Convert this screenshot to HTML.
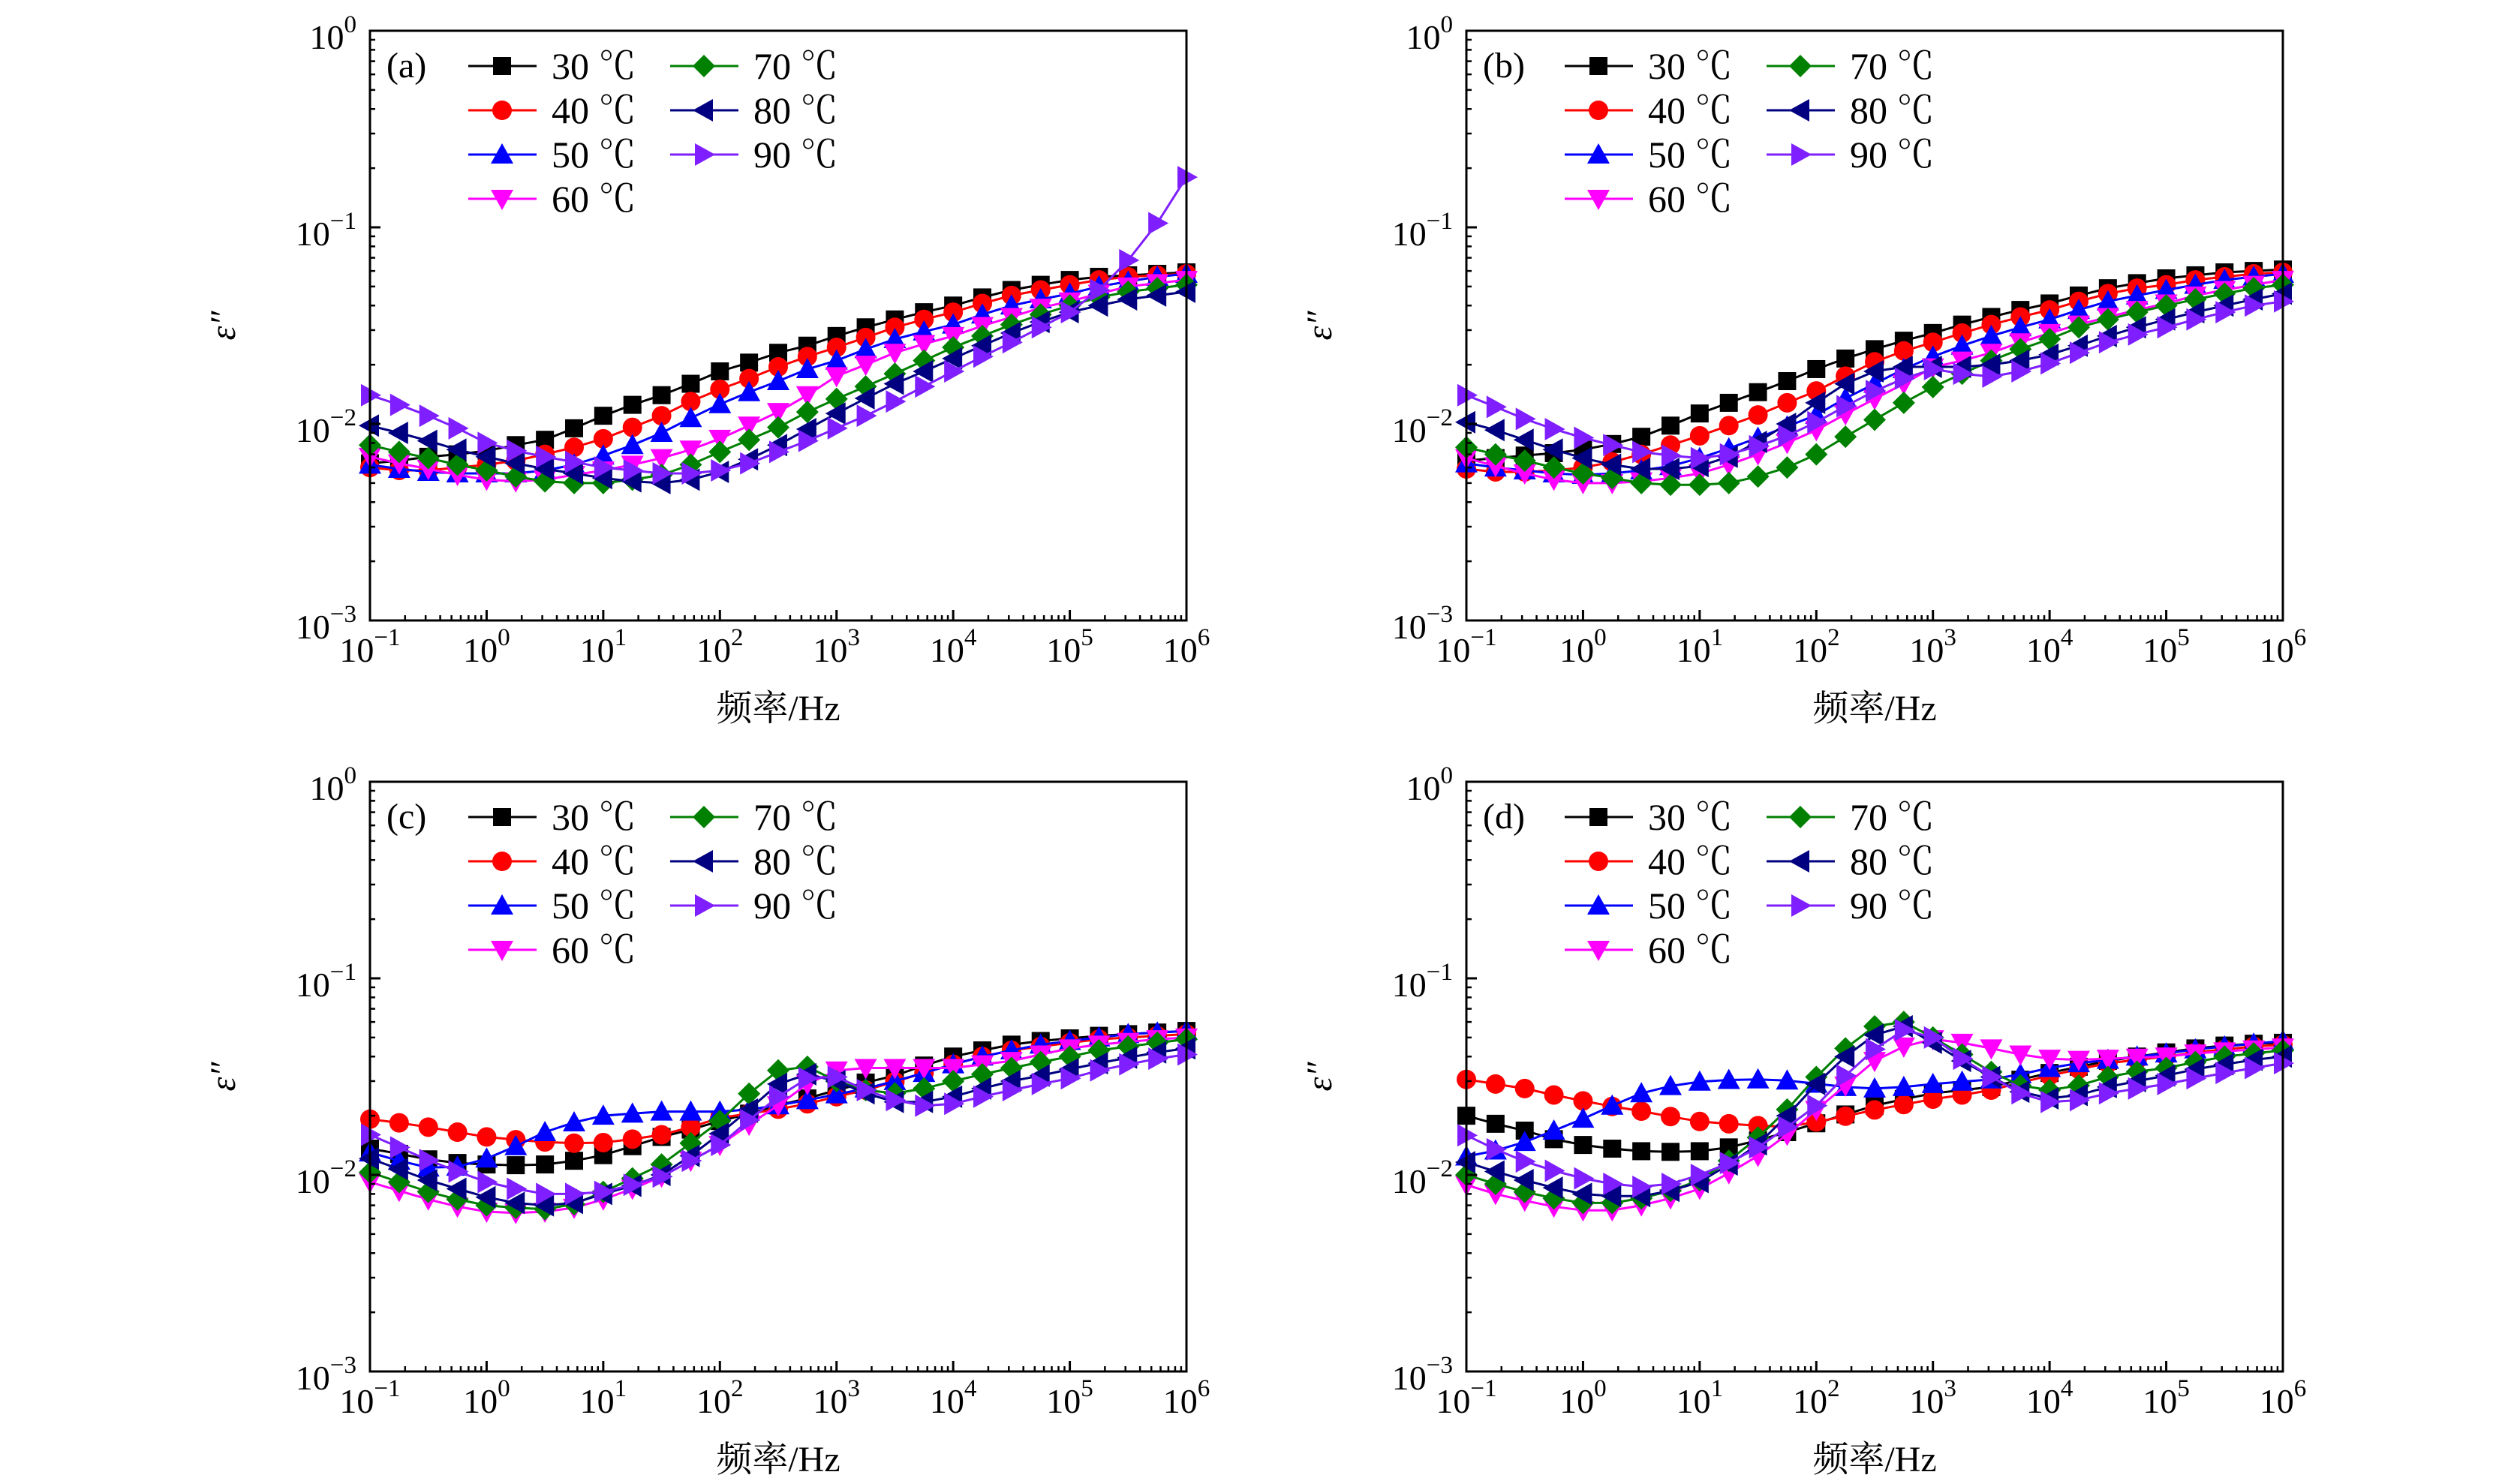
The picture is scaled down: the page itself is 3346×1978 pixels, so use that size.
<!DOCTYPE html>
<html><head><meta charset="utf-8"><style>
html,body{margin:0;padding:0;background:#fff;}
svg{display:block;}
text{font-family:"Liberation Serif","Noto Serif CJK SC",serif;fill:#000;}
</style></head>
<body>
<svg id="fig" width="3346" height="1978" viewBox="0 0 3346 1978" xmlns="http://www.w3.org/2000/svg"></svg>
<script>
// log10 frequency grid (quarter decades), values in units of 1e-3
const freqLog = [-1,-0.75,-0.5,-0.25,0,0.25,0.5,0.75,1,1.25,1.5,1.75,2,2.25,2.5,2.75,3,3.25,3.5,3.75,4,4.25,4.5,4.75,5,5.25,5.5,5.75,6];
const seriesLabels = ["30 ℃","40 ℃","50 ℃","60 ℃","70 ℃","80 ℃","90 ℃"];
const panelLetters = ["(a)","(b)","(c)","(d)"];
const yTickExp = [0,-1,-2,-3];
const xTickExp = [-1,0,1,2,3,4,5,6];

// Panel (a)
const a30 = [6.3,6.5,6.8,7.0,7.3,7.8,8.3,9.5,11,12.5,14,16,18.5,20.5,23,25,28,31,34,37,40,44,48,51,54,56,57,58,59];
const a40 = [6.0,5.8,5.8,6.0,6.2,6.5,7.0,7.6,8.4,9.6,11,13,15,17,19.5,22,24.5,27.5,31,34,37,41,45,48,51,54,56,57,58];
const a50 = [6.2,5.9,5.7,5.6,5.6,5.6,5.8,6.2,6.9,7.8,9.0,10.7,12.6,14.5,16.5,19,21,24,27,29.5,32,36,40,43,46,50,53,56,58];
const a60 = [6.8,6.3,5.9,5.5,5.2,5.1,5.2,5.5,5.8,6.2,6.7,7.4,8.4,9.8,11.5,14,17.5,20,23,25.5,28,31.5,35,39,42,46,50,52,54];
const a70 = [7.8,7.2,6.7,6.2,5.8,5.4,5.1,5.0,5.0,5.2,5.5,6.2,7.2,8.3,9.6,11.5,13.4,15.5,18,21,24.5,28,32,36,40,44,47,49,51];
const a80 = [9.8,9.0,8.2,7.4,6.8,6.3,5.9,5.6,5.3,5.1,5.0,5.2,5.7,6.6,7.8,9.4,11.3,13.5,16,18.5,21.5,25,29,33,37,40,43,45,47];
const a90 = [14,12.5,11,9.5,8.0,7.3,6.8,6.4,6.0,5.8,5.6,5.6,5.8,6.3,7.2,8.2,9.5,11,13,15.5,18.5,22,26,31,37,48,68,105,180];
// Panel (b)
const b30 = [6.5,6.7,6.9,7.1,7.4,7.9,8.6,9.8,11.3,12.8,14.5,16.5,19,21.5,24,26.5,29,32,35,38,41,45,49,52,55,57,59,60,61];
const b40 = [5.9,5.7,5.7,5.8,6.0,6.4,7.0,7.8,8.7,9.8,11.1,12.8,14.7,17.5,20.7,23.5,26,29,32,35,38,42,46,49,51,54,56,58,59];
const b50 = [6.3,6.0,5.8,5.6,5.5,5.6,5.8,6.1,6.7,7.5,8.5,9.7,11.1,13.5,16,19,22,25,28,31,34,38,42,45,48,51,54,56,58];
const b60 = [6.7,6.1,5.6,5.2,5.0,5.0,5.1,5.3,5.6,6.2,7.0,8.0,9.3,11.2,13.4,16,19.4,21,23,26,29,32,35,38,41,45,48,51,54];
const b70 = [7.6,7.0,6.5,6.0,5.6,5.3,5.0,4.9,4.9,5.0,5.4,6.0,7.0,8.6,10.5,12.8,15.4,18,21,24,27,31,34,37,40,43,46,49,51];
const b80 = [10.2,9.3,8.3,7.4,6.7,6.2,5.9,5.9,6.1,6.8,8.1,10,12.8,16,18.5,19.5,19.5,19.5,20,21,22.5,25,28,31,34,37,40,43,46];
const b90 = [14,12.2,10.6,9.4,8.5,7.8,7.2,6.9,6.7,7.0,7.7,8.7,10.2,12.3,14.7,17,19,18,17.4,18.5,20.3,23,26,28.5,31,34,37,40,42];
// Panel (c)
const c30 = [13.6,12.8,12.0,11.5,11.3,11.2,11.3,11.8,12.6,14,15.6,17,18.8,20.5,22.6,24.5,27,29.5,32,36,40,43,46,48,49.5,51,52,53,54];
const c40 = [19.2,18.4,17.5,16.5,15.6,15.1,14.7,14.5,14.6,15.2,16,17.5,19.5,20.5,21.6,23,25,27,29.8,33,36.5,40,43,45,47,49,50,51,52];
const c50 = [13,11.8,10.9,11.0,12.1,14,16.5,18.5,20,20.5,21,21,21,21.5,22.6,24,25.7,27.5,30,33,36.5,40,43,46,48,50,52,53,54];
const c60 = [9.2,8.3,7.5,6.9,6.5,6.4,6.5,6.8,7.5,8.5,9.8,11.8,14.2,18,22.6,29,34,35,35,35,35,36.5,38,41,44,46,47.5,49,50];
const c70 = [10.3,9.2,8.2,7.5,7.0,6.8,6.7,7.1,8.2,9.6,11.3,14.5,18.8,25.9,34,35.5,30,27,26,27.5,30,32.5,35,37.5,40,43,45,47,49];
const c80 = [12.1,10.7,9.4,8.5,7.7,7.2,7.0,7.2,8.0,8.8,10,12.5,16.2,21.5,29,32.5,30,26,23.5,23.5,25,27.5,30,32,34.5,37,39.5,42,44];
const c90 = [16,13.8,11.9,10.4,9.2,8.5,8.0,8.0,8.2,8.9,9.8,11.8,14.2,19,25,31,31.5,27,24,22.5,23,25,27,29,31,34,36.5,39,41];
// Panel (d)
const d30 = [20,18.2,16.8,15.2,14.2,13.6,13.2,13.1,13.2,13.8,15,16.5,18.3,20.3,22.5,24.3,26,27,28,30.5,33,35.5,38,40,42,44,45.5,46.5,47];
const d40 = [30.6,29,27.5,25.5,23.8,22.3,21.1,19.8,18.7,18.2,17.8,17.6,18.6,19.9,21.4,22.8,24.3,25.5,27,29.5,32,34.5,37,38.5,40,42,43.5,45,46];
const d50 = [12.4,13.3,14.7,16.8,19.3,22.5,26,28.3,29.8,30.4,30.6,30.2,29.1,28,27.5,28,29,29.8,30.6,32.5,35,37,38.5,40,41.5,43.5,45,46.5,48];
const d60 = [8.9,8.0,7.4,6.9,6.6,6.6,7.0,7.6,8.5,10.2,12.5,16,21.4,28.5,38,45,49,47,44,41,39,38.5,39,39.5,40,41.5,42.5,43.5,44.5];
const d70 = [10,9.0,8.2,7.6,7.2,7.2,7.6,8.3,9.4,11.8,15.5,21.5,31.5,44,57,60,50,41,33.4,28.5,27,28.5,31.5,33.5,35,37.5,40,41.5,43];
const d80 = [11.6,10.4,9.4,8.6,8.0,7.8,7.8,8.3,9.2,11.3,14.3,20,29,40,51.5,57,47,38,31.5,26.5,24.5,25.5,28,30,32,34.5,36.5,38.5,40];
const d90 = [15.9,13.5,11.7,10.5,9.6,9.0,8.7,9.0,10,11.5,13.8,17.5,22.5,32,43.6,54.6,50,39,31.5,26,23.5,24,26,27.5,29,31,33,35,37];

const panelData = [[a30,a40,a50,a60,a70,a80,a90],[b30,b40,b50,b60,b70,b80,b90],[c30,c40,c50,c60,c70,c80,c90],[d30,d40,d50,d60,d70,d80,d90]];

const colors = ["#000000","#ff0000","#0000ff","#ff00ff","#008000","#000080","#7f1fff"];
const shapes = ["square","circle","up","down","diamond","left","right"];
const panels = [
  {x0:493,x1:1581,y0:41,y1:827},
  {x0:1954,x1:3042,y0:41,y1:827},
  {x0:493,x1:1581,y0:1042,y1:1828},
  {x0:1954,x1:3042,y0:1042,y1:1828}
];
const NS="http://www.w3.org/2000/svg";
const svg=document.getElementById('fig');
function mk(tag,attrs,parent){const e=document.createElementNS(NS,tag);for(const k in attrs)e.setAttribute(k,attrs[k]);(parent||svg).appendChild(e);return e;}
function xPix(p,lf){return p.x0+(lf+1)/7*(p.x1-p.x0);}
function yPix(p,v){return p.y1-(Math.log10(v*1e-3)+3)/3*(p.y1-p.y0);}
function marker(g,shape,cx,cy,col){
  const s=12;let el;
  if(shape==="square") el=mk('rect',{x:cx-s,y:cy-s,width:2*s,height:2*s,fill:col},g);
  else if(shape==="circle") el=mk('circle',{cx:cx,cy:cy,r:s+1,fill:col},g);
  else {
    let pts;const t=15;
    if(shape==="up") pts=[[cx,cy-t],[cx+t,cy+t*0.8],[cx-t,cy+t*0.8]];
    else if(shape==="down") pts=[[cx,cy+t],[cx+t,cy-t*0.8],[cx-t,cy-t*0.8]];
    else if(shape==="left") pts=[[cx-t,cy],[cx+t*0.8,cy-t],[cx+t*0.8,cy+t]];
    else if(shape==="right") pts=[[cx+t,cy],[cx-t*0.8,cy-t],[cx-t*0.8,cy+t]];
    else pts=[[cx,cy-t],[cx+t,cy],[cx,cy+t],[cx-t,cy]];
    el=mk('polygon',{points:pts.map(q=>q.join(',')).join(' '),fill:col},g);
  }
  
  
}
function sup(parent,base,exp,size){
  mk('tspan',{},parent).textContent=base;
  const t=mk('tspan',{dy:-22,'font-size':size*0.72},parent);t.textContent=exp.replace('-','−');
}

panels.forEach((p,pi)=>{
  const g=mk('g',{});
  
  
  panelData[pi].forEach((vals,si)=>{
    const sg=mk('g',{},g);
    
    
    const pts=vals.map((v,i)=>xPix(p,freqLog[i]).toFixed(1)+','+yPix(p,v).toFixed(1)).join(' ');
    const ln=mk('polyline',{points:pts,fill:'none',stroke:colors[si],'stroke-width':3},sg);
    
    
    vals.forEach((v,i)=>{const y=yPix(p,v);if(y>=p.y0-5)marker(sg,shapes[si],xPix(p,freqLog[i]),y,colors[si]);});
  });
  const fr=mk('rect',{x:p.x0,y:p.y0,width:p.x1-p.x0,height:p.y1-p.y0,fill:'none',stroke:'#000','stroke-width':3},g);
  
  
  for(let d=-3;d<=0;d++){
    const y=yPix(p,Math.pow(10,d+3));
    mk('line',{x1:p.x0,x2:p.x0+14,y1:y,y2:y,stroke:'#000','stroke-width':3},g);
    if(d<0)for(let m=2;m<=9;m++){const ym=yPix(p,m*Math.pow(10,d+3));mk('line',{x1:p.x0,x2:p.x0+7,y1:ym,y2:ym,stroke:'#000','stroke-width':2.5},g);}
  }
  yTickExp.forEach(e=>{
    const y=yPix(p,Math.pow(10,e+3));
    const t=mk('text',{x:p.x0-18,y:y+24,'font-size':46,'text-anchor':'end'},g);
    
    
    sup(t,'10',String(e),46);
  });
  xTickExp.forEach(e=>{
    const x=xPix(p,e);
    mk('line',{x1:x,x2:x,y1:p.y1,y2:p.y1-14,stroke:'#000','stroke-width':3},g);
    if(e<6)for(let m=2;m<=9;m++){const xm=xPix(p,e+Math.log10(m));mk('line',{x1:xm,x2:xm,y1:p.y1,y2:p.y1-7,stroke:'#000','stroke-width':2.5},g);}
    const t=mk('text',{x:x,y:p.y1+55,'font-size':46,'text-anchor':'middle'},g);
    
    
    sup(t,'10',String(e),46);
  });
  const xt=mk('text',{x:(p.x0+p.x1)/2,y:p.y1+133,'font-size':48,'text-anchor':'middle'},g);
  
  
  xt.textContent='频率/Hz';
  const cy=(p.y0+p.y1)/2;
  const yt=mk('text',{x:p.x0-180,y:cy,'font-size':48,'text-anchor':'middle','font-style':'italic',transform:'rotate(-90 '+(p.x0-180)+' '+cy+')'},g);
  
  
  yt.textContent='ε″';
  const pl=mk('text',{x:p.x0+22,y:p.y0+62,'font-size':48},g);
  
  
  pl.textContent=panelLetters[pi];
  const lg=mk('g',{},g);
  
  
  seriesLabels.forEach((lab,si)=>{
    const col=si<4?0:1,row=si<4?si:si-4;
    const lx=p.x0+(col?400:131),ly=p.y0+47+row*59;
    const eg=mk('g',{},lg);
    
    
    mk('line',{x1:lx,x2:lx+91,y1:ly,y2:ly,stroke:colors[si],'stroke-width':3},eg);
    marker(eg,shapes[si],lx+45,ly,colors[si]);
    const t=mk('text',{x:lx+111,y:ly+17,'font-size':50},eg);
    t.textContent=lab;
  });
});
</script>
</body></html>
